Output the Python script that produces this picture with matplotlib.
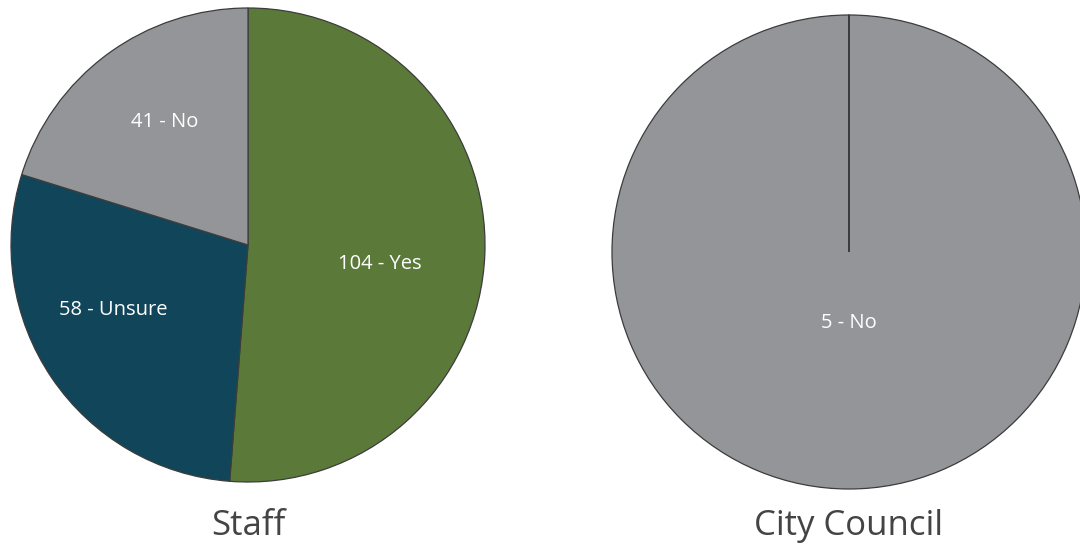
import matplotlib.pyplot as plt

plt.rcParams['font.family'] = ['Open Sans', 'DejaVu Sans']

# survey answers
staff_labels = ["104 - Yes", "58 - Unsure", "41 - No"]
staff_counts = [104, 58, 41]
staff_colors = ["#5b7a3a", "#11455a", "#939598"]

council_labels = ["5 - No"]
council_counts = [5]
council_colors = ["#939598"]

titles = ["Staff", "City Council"]

W, H = 1080, 548
fig = plt.figure(figsize=(W / 100, H / 100), dpi=100)

R = 237  # pie radius in pixels


def pie_axes(cx, cy):
    # square axes that holds a unit-radius pie centred at (cx, cy) px, top-left origin
    return fig.add_axes([(cx - R) / W, (H - cy - R) / H, 2 * R / W, 2 * R / H])


edge = dict(edgecolor="#3c3c3c", linewidth=0.9, clip_on=False)
text = dict(color="white", fontsize=14.5)

ax1 = pie_axes(248, 245)
_, staff_texts = ax1.pie(staff_counts, labels=staff_labels, colors=staff_colors,
                         startangle=90, counterclock=False, labeldistance=0.6,
                         wedgeprops=edge, textprops=text)
# small nudges (pixels) so the labels sit a bit off the wedge bisectors
nudge = [(-10, -13), (-17, 15), (1, 8)]
for t, (dx, dy) in zip(staff_texts, nudge):
    x, y = t.get_position()
    t.set_position((x + dx / R, y + dy / R))
    t.set_ha("center")
    t.set_va("center")

ax2 = pie_axes(849, 252)
wedges, labels = ax2.pie(council_counts, labels=council_labels, colors=council_colors,
                         startangle=90, counterclock=False, labeldistance=0.3,
                         wedgeprops=edge, textprops=text)
# keep the seam of the single full wedge at the top
wedges[0].set_theta1(-270)
wedges[0].set_theta2(90 - 1e-7)
for t in labels:
    t.set_ha("center")
    t.set_va("center")

for ax in [ax1, ax2]:
    ax.set_xlim(-1, 1)
    ax.set_ylim(-1, 1)
    ax.set_aspect("equal")
    ax.axis("off")

for cx, title in zip([248, 849], titles):
    fig.text(cx / W, 1 - 526 / H, title, ha="center", va="center",
             fontsize=25, color="#444444")

fig.savefig("out.png", dpi=100)
